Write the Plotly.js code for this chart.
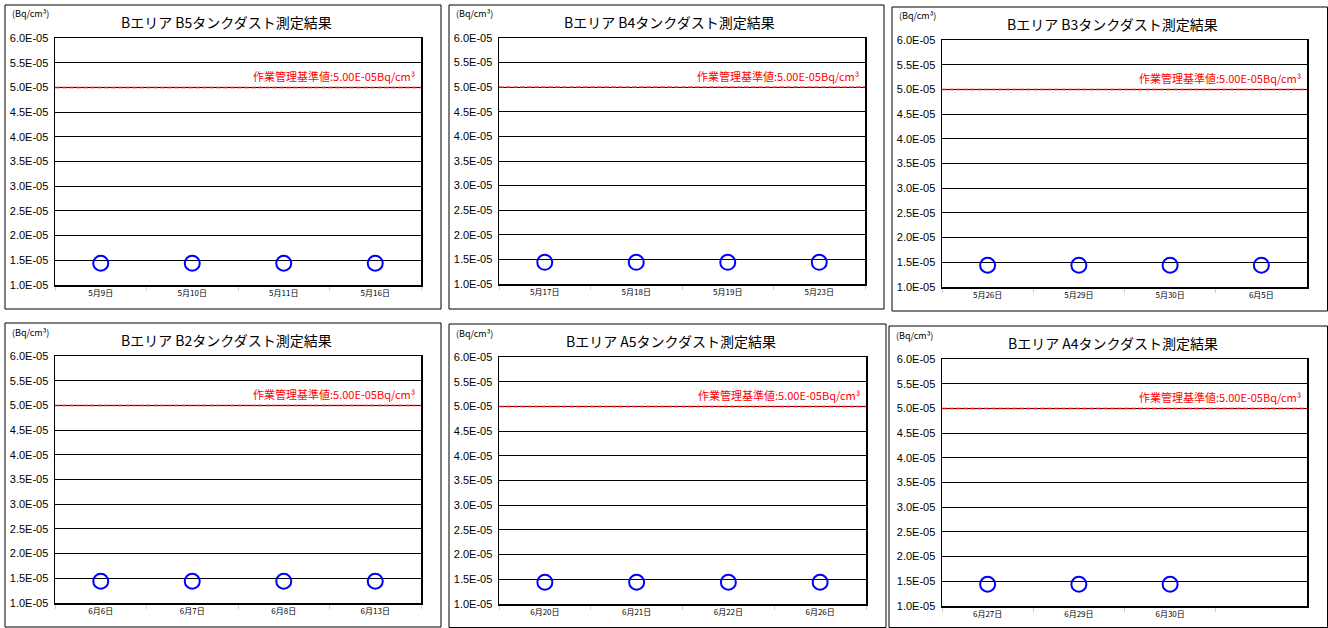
<!DOCTYPE html>
<html>
<head>
<meta charset="utf-8">
<script src="https://cdn.plot.ly/plotly-3.0.1.min.js"></script>
<style>html,body{margin:0;padding:0;background:#fff;}#chart{width:1328px;height:628px;}</style>
</head>
<body>
<div id="chart"></div>
<script>
// ---- data ----
const titles = [
  "Bエリア B5タンクダスト測定結果",
  "Bエリア B4タンクダスト測定結果",
  "Bエリア B3タンクダスト測定結果",
  "Bエリア B2タンクダスト測定結果",
  "Bエリア A5タンクダスト測定結果",
  "Bエリア A4タンクダスト測定結果"
];
const dates1 = ["5月9日", "5月10日", "5月11日", "5月16日"];
const dates2 = ["5月17日", "5月18日", "5月19日", "5月23日"];
const dates3 = ["5月26日", "5月29日", "5月30日", "6月5日"];
const dates4 = ["6月6日", "6月7日", "6月8日", "6月13日"];
const dates5 = ["6月20日", "6月21日", "6月22日", "6月26日"];
const dates6 = ["6月27日", "6月29日", "6月30日", " "];
const values1 = [1.44e-5, 1.44e-5, 1.44e-5, 1.44e-5];
const values2 = [1.44e-5, 1.44e-5, 1.44e-5, 1.44e-5];
const values3 = [1.44e-5, 1.44e-5, 1.44e-5, 1.44e-5];
const values4 = [1.44e-5, 1.44e-5, 1.44e-5, 1.44e-5];
const values5 = [1.44e-5, 1.44e-5, 1.44e-5, 1.44e-5];
const values6 = [1.44e-5, 1.44e-5, 1.44e-5];
const limitValue = 5.0e-5;
const limitLabel = "作業管理基準値:5.00E-05Bq/cm³";
const unitLabel = "(Bq/cm³)";
const yTickVals = [1.0e-5, 1.5e-5, 2.0e-5, 2.5e-5, 3.0e-5, 3.5e-5, 4.0e-5, 4.5e-5, 5.0e-5, 5.5e-5, 6.0e-5];
const yTickText = ["1.0E-05", "1.5E-05", "2.0E-05", "2.5E-05", "3.0E-05", "3.5E-05", "4.0E-05", "4.5E-05", "5.0E-05", "5.5E-05", "6.0E-05"];

const allDates = [dates1, dates2, dates3, dates4, dates5, dates6];
const allValues = [values1, values2, values3, values4, values5, values6];

// ---- layout geometry (pixels) ----
const W = 1328, H = 628;
const plots = [
  {x0: 55, x1: 421, y0: 38, y1: 285},
  {x0: 499, x1: 865, y0: 38, y1: 284},
  {x0: 942, x1: 1307, y0: 40, y1: 287},
  {x0: 55, x1: 421, y0: 356, y1: 603},
  {x0: 499, x1: 866, y0: 357, y1: 604},
  {x0: 942, x1: 1307, y0: 359, y1: 606}
];
const frames = [
  {x0: 5, x1: 441, y0: 5, y1: 309},
  {x0: 449, x1: 884, y0: 5, y1: 309},
  {x0: 892, x1: 1334, y0: 7, y1: 311},
  {x0: 5, x1: 441, y0: 323, y1: 627},
  {x0: 449, x1: 886, y0: 324, y1: 634},
  {x0: 889, x1: 1334, y0: 326, y1: 634}
];
const px = v => v / W;
const py = v => 1 - v / H;

const FONT = '"Noto Sans CJK JP", "Noto Sans", sans-serif';
const traces = [];
const layout = {
  width: W, height: H,
  margin: {l: 0, r: 0, t: 0, b: 0},
  paper_bgcolor: '#fff', plot_bgcolor: '#fff',
  showlegend: false,
  font: {family: FONT, color: '#000'},
  shapes: [], annotations: []
};

plots.forEach((p, i) => {
  const n = i + 1;
  const xa = n === 1 ? 'x' : 'x' + n;
  const ya = n === 1 ? 'y' : 'y' + n;
  const xk = n === 1 ? 'xaxis' : 'xaxis' + n;
  const yk = n === 1 ? 'yaxis' : 'yaxis' + n;
  const dates = allDates[i];
  traces.push({
    type: 'scatter', mode: 'markers',
    x: dates.slice(0, allValues[i].length), y: allValues[i],
    xaxis: xa, yaxis: ya,
    marker: {symbol: 'circle-open', size: 15, color: '#0000ff', line: {width: 2, color: '#0000ff'}},
    hoverinfo: 'skip', cliponaxis: false
  });
  layout[xk] = {
    domain: [px(p.x0), px(p.x1)], anchor: ya,
    type: 'category', categoryorder: 'array', categoryarray: dates,
    tickvals: dates, ticktext: dates,
    range: [-0.5, dates.length - 0.5],
    showgrid: false, zeroline: false,
    showline: true, linecolor: '#000', linewidth: 1.5, mirror: true,
    ticks: 'outside', tickson: 'boundaries', ticklen: 4, tickcolor: '#d0d0d0', tickwidth: 1,
    tickfont: {size: 8, family: FONT, color: '#000'},
    fixedrange: true
  };
  layout[yk] = {
    domain: [py(p.y1), py(p.y0)], anchor: xa,
    range: [1.0e-5, 6.0e-5],
    tickvals: yTickVals, ticktext: yTickText,
    showgrid: true, gridcolor: '#000', gridwidth: 1,
    zeroline: false,
    showline: true, linecolor: '#000', linewidth: 1.5, mirror: true,
    ticks: '', ticklabelstandoff: 3,
    tickfont: {size: 11, family: '"Liberation Sans", Arial, sans-serif', color: '#000'},
    fixedrange: true
  };
  // frame
  const f = frames[i];
  layout.shapes.push({
    type: 'rect', xref: 'paper', yref: 'paper',
    x0: px(f.x0), x1: px(Math.min(f.x1, W - 0.5)), y0: py(Math.min(f.y1, H - 0.5)), y1: py(f.y0),
    line: {color: '#000', width: 1}, fillcolor: 'rgba(0,0,0,0)', layer: 'below'
  });
  // limit line
  layout.shapes.push({
    type: 'line', xref: xa + ' domain', yref: ya,
    x0: 0, x1: 1, y0: limitValue, y1: limitValue,
    line: {color: '#ff0000', width: 1.5, dash: '5px,2px'}
  });
  layout.annotations.push({
    xref: xa + ' domain', yref: ya, x: 0.99, y: limitValue,
    xanchor: 'right', yanchor: 'bottom', yshift: 1,
    text: limitLabel, showarrow: false,
    font: {size: 11, color: '#ff0000', family: FONT}
  });
  // title
  layout.annotations.push({
    xref: 'paper', yref: 'paper', x: px((p.x0 + p.x1) / 2 - 12), y: py(p.y0 - 16),
    xanchor: 'center', yanchor: 'middle',
    text: titles[i], showarrow: false,
    font: {size: 14, color: '#000', family: FONT}
  });
  // unit label
  layout.annotations.push({
    xref: 'paper', yref: 'paper', x: px(f.x0 + 5), y: py(p.y0 - 24),
    xanchor: 'left', yanchor: 'middle',
    text: unitLabel, showarrow: false,
    font: {size: 9, color: '#000', family: FONT}
  });
});

Plotly.newPlot('chart', traces, layout, {staticPlot: true, displayModeBar: false});
</script>
</body>
</html>
